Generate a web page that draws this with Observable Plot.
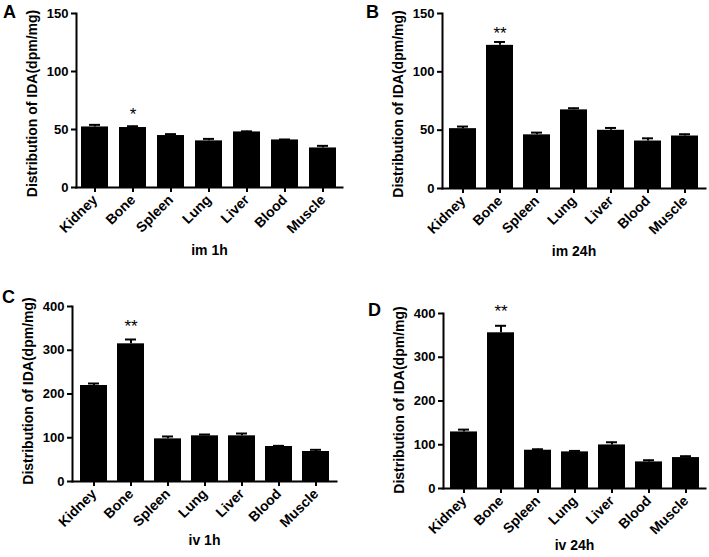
<!DOCTYPE html>
<html>
<head>
<meta charset="utf-8">
<script src="https://cdn.jsdelivr.net/npm/d3@7"></script>
<script src="https://cdn.jsdelivr.net/npm/@observablehq/plot@0.6"></script>
<style>
  body { margin: 0; background: white; }
  #chart { position: relative; width: 709px; height: 557px; background: white; }
  .tag { position: absolute; font: bold 18px "Liberation Sans", Arial, sans-serif; }
</style>
</head>
<body>
<div id="chart"></div>
<script>
// organs on the x axis
const organs = ["Kidney", "Bone", "Spleen", "Lung", "Liver", "Blood", "Muscle"];

// A: im 1h
const im1hMean = [52.2, 51.7, 44.8, 40.2, 47.9, 41.0, 34.1];
const im1hErr = [1.8, 1.1, 1.2, 1.7, 0.5, 0.4, 1.8];
const im1hStars = ["", "*", "", "", "", "", ""];

// B: im 24h
const im24hMean = [51.3, 122.7, 46.0, 67.4, 49.9, 40.7, 45.0];
const im24hErr = [1.8, 2.9, 1.9, 1.4, 2.0, 2.3, 1.5];
const im24hStars = ["", "**", "", "", "", "", ""];

// C: iv 1h
const iv1hMean = [219.4, 314.7, 97.5, 104.4, 104.4, 80.0, 68.6];
const iv1hErr = [4.6, 9.9, 5.4, 3.0, 5.3, 1.5, 3.8];
const iv1hStars = ["", "**", "", "", "", "", ""];

// D: iv 24h
const iv24hMean = [129.3, 355.9, 87.5, 83.7, 99.6, 60.8, 70.7];
const iv24hErr = [5.3, 16.0, 2.2, 2.2, 6.1, 3.8, 3.1];
const iv24hStars = ["", "**", "", "", "", "", ""];

const ticks150 = [0, 50, 100, 150];
const ticks400 = [0, 100, 200, 300, 400];
const yTitle = "Distribution of IDA(dpm/mg)";

const font = "'Liberation Sans', Arial, sans-serif";

function panel(mean, err, stars, yTicks, xTitle, o) {
  const rows = organs.map((organ, i) => ({organ, mean: mean[i], top: mean[i] + err[i], star: stars[i]}));
  const svg = Plot.plot({
    width: o.width,
    height: o.height,
    marginLeft: o.ml,
    marginRight: o.mr,
    marginTop: o.mt,
    marginBottom: o.mb,
    style: {fontFamily: font, fontSize: "13px", fontWeight: "bold", color: "black", background: "white", overflow: "visible"},
    x: {domain: organs, paddingInner: 0.28, paddingOuter: 0.14, label: null},
    y: {domain: [yTicks[0], yTicks[yTicks.length - 1]], label: null},
    marks: [
      Plot.barY(rows, {x: "organ", y: "mean", fill: "black"}),
      Plot.ruleX(rows, {x: "organ", y1: "mean", y2: "top", strokeWidth: 2}),
      Plot.tickY(rows, {x: "organ", y: "top", strokeWidth: 2, insetLeft: 8, insetRight: 8}),
      Plot.text(rows, {x: "organ", y: "top", text: "star", dy: o.starDy, fontSize: 17, fontWeight: "normal", fill: "black"}),
      Plot.frame({anchor: "left", strokeWidth: 2}),
      Plot.frame({anchor: "bottom", strokeWidth: 2}),
      Plot.axisY({ticks: yTicks, tickSize: 5, tickPadding: 3, strokeWidth: 2, fontSize: 13, label: null}),
      Plot.axisX({tickSize: 5, tickPadding: 5, tickRotate: -45, strokeWidth: 2, fontSize: 14, label: null}),
      Plot.text([xTitle], {frameAnchor: "bottom", dy: o.xDy, fontSize: 14, fill: "black"}),
      Plot.text([yTitle], {frameAnchor: "left", rotate: -90, textAnchor: "middle", dx: -44, dy: o.yDy, fontSize: 14, fill: "black"})
    ]
  });
  svg.style.position = "absolute";
  svg.style.left = o.left + "px";
  svg.style.top = o.top + "px";
  return svg;
}

const chart = d3.select("#chart");
chart.append(() => panel(im1hMean, im1hErr, im1hStars, ticks150, "im 1h",
  {left: 0, top: 0, width: 354, height: 278, ml: 76, mr: 12, mt: 13, mb: 91, starDy: -12, xDy: 67, yDy: 3}));
chart.append(() => panel(im24hMean, im24hErr, im24hStars, ticks150, "im 24h",
  {left: 354, top: 0, width: 355, height: 278, ml: 88, mr: 4, mt: 13, mb: 90, starDy: -8, xDy: 67, yDy: 3}));
chart.append(() => panel(iv1hMean, iv1hErr, iv1hStars, ticks400, "iv 1h",
  {left: 0, top: 278, width: 354, height: 279, ml: 72, mr: 18, mt: 28, mb: 76, starDy: -13, xDy: 63, yDy: -3}));
chart.append(() => panel(iv24hMean, iv24hErr, iv24hStars, ticks400, "iv 24h",
  {left: 354, top: 278, width: 355, height: 279, ml: 89, mr: 4, mt: 35, mb: 69, starDy: -14, xDy: 61, yDy: -1}));

const tags = [["A", 3, 2], ["B", 366, 2], ["C", 2, 287], ["D", 368, 300]];
tags.forEach(([t, x, y]) => {
  chart.append("div").attr("class", "tag").style("left", x + "px").style("top", y + "px").text(t);
});
</script>
</body>
</html>
